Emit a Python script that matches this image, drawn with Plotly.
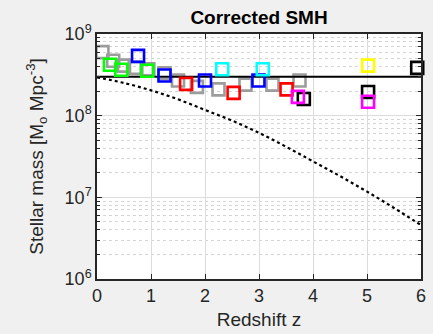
import plotly.graph_objects as go

# Stellar mass density compilations (open squares), grouped by colour
gray_z = [0.1, 0.3, 0.5, 0.7, 0.95, 1.25, 1.5, 1.85, 2.25, 2.75, 3.25, 3.75]
gray_rho = [6.0e8, 4.7e8, 4.1e8, 3.85e8, 3.7e8, 3.3e8, 2.7e8, 2.25e8, 2.1e8, 2.4e8, 2.4e8, 2.7e8]

green_z = [0.24, 0.45, 0.93]
green_rho = [4.2e8, 3.65e8, 3.55e8]

blue_z = [0.76, 1.25, 2.0, 2.99]
blue_rho = [5.4e8, 3.1e8, 2.7e8, 2.7e8]

red_z = [1.65, 2.53, 3.51]
red_rho = [2.45e8, 1.9e8, 2.1e8]

cyan_z = [2.32, 3.07]
cyan_rho = [3.7e8, 3.7e8]

black_z = [3.83, 5.02, 5.93]
black_rho = [1.6e8, 1.95e8, 3.85e8]

magenta_z = [3.72, 5.02]
magenta_rho = [1.7e8, 1.48e8]

yellow_z = [5.02]
yellow_rho = [4.1e8]

# Constant reference level
flat_z = [0, 6]
flat_rho = [3.0e8, 3.0e8]

# Dotted model curve (log10 of density)
model_z = [0, 0.5, 1, 1.5, 2, 2.5, 3, 3.5, 4, 4.5, 5, 5.5, 6]
model_logrho = [8.47, 8.40, 8.31, 8.20, 8.07, 7.94, 7.79, 7.62, 7.44, 7.26, 7.07, 6.87, 6.66]

x_ticks = [0, 1, 2, 3, 4, 5, 6]
y_tickvals = [1e6, 1e7, 1e8, 1e9]
y_ticktext = ["10<sup>6</sup>", "10<sup>7</sup>", "10<sup>8</sup>", "10<sup>9</sup>"]
y_minor = [m * d for d in (1e6, 1e7, 1e8) for m in range(2, 10)]

FONT = "Liberation Sans, Arial, Helvetica, sans-serif"
TXT = "#262626"

fig = go.Figure()


def squares(z, rho, color):
    fig.add_trace(go.Scatter(
        x=z, y=rho, mode="markers",
        marker=dict(symbol="square-open", size=12, color=color,
                    line=dict(color=color, width=2.6)),
        showlegend=False, hoverinfo="skip", cliponaxis=False,
    ))


squares(gray_z, gray_rho, "#9c9c9c")

fig.add_trace(go.Scatter(
    x=flat_z, y=flat_rho, mode="lines",
    line=dict(color="black", width=2), showlegend=False, hoverinfo="skip",
))
fig.add_trace(go.Scatter(
    x=model_z, y=[10 ** v for v in model_logrho], mode="lines",
    line=dict(color="black", width=2.2, dash="dot", shape="spline"),
    showlegend=False, hoverinfo="skip",
))

squares(green_z, green_rho, "#00ff00")
squares(blue_z, blue_rho, "#0000ff")
squares(red_z, red_rho, "#ff0000")
squares(cyan_z, cyan_rho, "#00ffff")
squares(black_z, black_rho, "#000000")
squares(magenta_z, magenta_rho, "#ff00ff")
squares(yellow_z, yellow_rho, "#ffff00")

fig.update_layout(
    width=433, height=334,
    margin=dict(l=97, r=12, t=34, b=55),
    paper_bgcolor="#f0f0f0", plot_bgcolor="white",
    font=dict(family=FONT, size=18, color=TXT),
    title=dict(text="<b>Corrected SMH</b>", x=0.5, xanchor="center",
               xref="paper", y=0.948, yanchor="middle",
               font=dict(family=FONT, size=19, color="black")),
)

fig.update_xaxes(
    range=[0, 6], tickvals=x_ticks, ticks="inside", ticklen=5,
    tickcolor=TXT, showline=True, linecolor="#262626", linewidth=1.5,
    mirror="allticks", showgrid=True, gridcolor="#dcdcdc", gridwidth=1,
    zeroline=False, tickfont=dict(size=18, color=TXT), automargin=False,
    title=dict(text="Redshift z", font=dict(size=19, color=TXT), standoff=7),
)

fig.update_yaxes(
    type="log", range=[6, 9], tickvals=y_tickvals, ticktext=y_ticktext,
    ticks="inside", ticklen=5, tickcolor=TXT,
    showline=True, linecolor="#262626", linewidth=1.5, mirror="allticks",
    showgrid=True, gridcolor="#dcdcdc", gridwidth=1, zeroline=False,
    tickfont=dict(size=18, color=TXT), automargin=False,
    minor=dict(tickmode="array", tickvals=y_minor, ticks="inside", ticklen=3,
               tickcolor=TXT, showgrid=True, gridcolor="#d4d4d4",
               griddash="dot", gridwidth=1),
    title=dict(text="Stellar mass [M<sub>o</sub> Mpc<sup>-3</sup>]",
               font=dict(size=19, color=TXT), standoff=16),
)

fig.write_html("out.html")
